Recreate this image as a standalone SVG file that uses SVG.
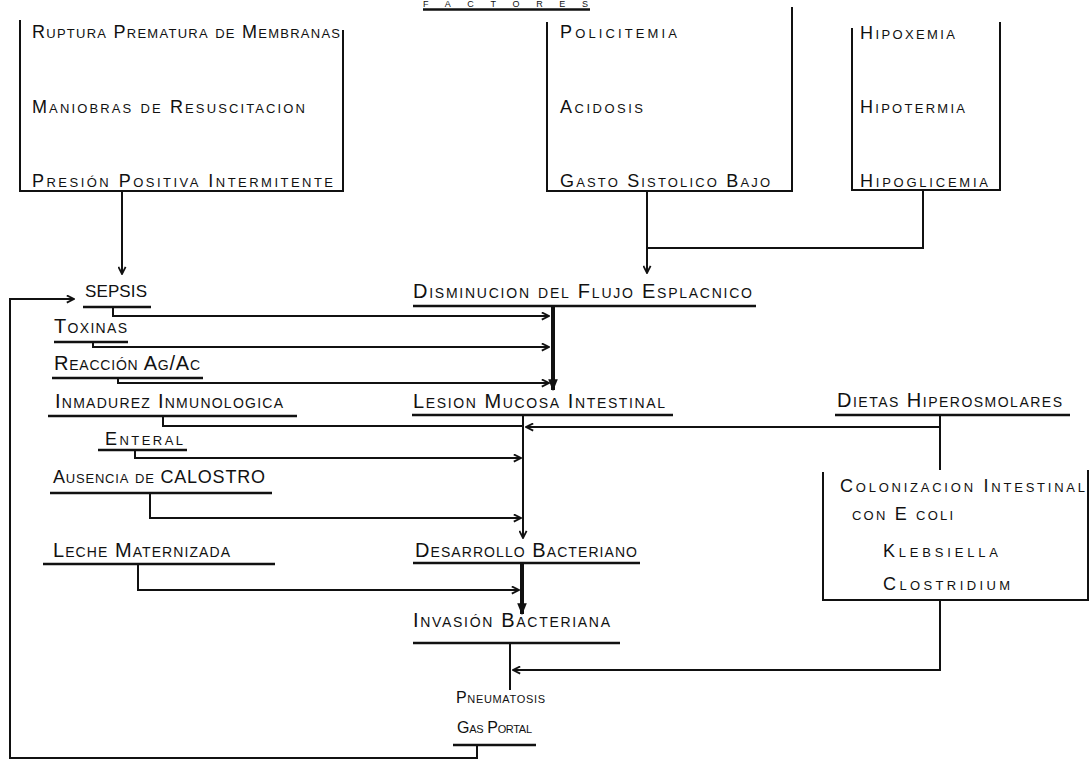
<svg xmlns="http://www.w3.org/2000/svg" width="1092" height="763" viewBox="0 0 1092 763">
<style>
.t{font-family:"Liberation Sans",Arial,sans-serif;font-size:18px;font-variant:small-caps;fill:#111}
.m{font-size:20px}
.s{font-size:16px}
.l{stroke:#111;stroke-width:2;fill:none}
.k{stroke:#111;stroke-width:4;fill:none}
.u{stroke:#111;stroke-width:2.5;fill:none}
</style>
<defs>
<marker id="a" viewBox="0 0 10 10" refX="9" refY="5" markerWidth="9" markerHeight="9" orient="auto" markerUnits="userSpaceOnUse"><path d="M1,1 L9,5 L1,9" fill="none" stroke="#111" stroke-width="2"/></marker>
<marker id="f" viewBox="0 0 10 10" refX="9" refY="5" markerWidth="12" markerHeight="12" orient="auto" markerUnits="userSpaceOnUse"><path d="M0,1 L10,5 L0,9 Z" fill="#111"/></marker>
</defs>
<rect width="1092" height="763" fill="#fff"/>

<g id="title">
<text class="t" style="font-size:9px" x="423" y="7" textLength="165" lengthAdjust="spacing">FACTORES</text>
<path class="u" d="M423,9.5 H590"/>
</g>

<g id="box1">
<path class="l" d="M20,20 V191 H343 V30"/>
<text class="t" x="32" y="38" textLength="308" lengthAdjust="spacing">Ruptura Prematura de Membranas</text>
<text class="t" x="32" y="113" textLength="273" lengthAdjust="spacing">Maniobras de Resuscitacion</text>
<text class="t" x="32" y="187" textLength="301" lengthAdjust="spacing">Presión Positiva Intermitente</text>
</g>

<g id="box2">
<path class="l" d="M547,22 V191 H792 V7"/>
<text class="t" x="560" y="38" textLength="117" lengthAdjust="spacing">Policitemia</text>
<text class="t" x="560" y="113" textLength="83" lengthAdjust="spacing">Acidosis</text>
<text class="t" x="560" y="187" textLength="210" lengthAdjust="spacing">Gasto Sistolico Bajo</text>
</g>

<g id="box3">
<path class="l" d="M852,28 V190 H1000 V22"/>
<text class="t" x="860" y="39" textLength="95" lengthAdjust="spacing">Hipoxemia</text>
<text class="t" x="860" y="113" textLength="105" lengthAdjust="spacing">Hipotermia</text>
<text class="t" x="860" y="187" textLength="128" lengthAdjust="spacing">Hipoglicemia</text>
</g>

<g id="sepsis">
<text class="t" style="font-size:17px" x="85" y="297" textLength="62" lengthAdjust="spacing">SEPSIS</text>
<path class="u" d="M83,307 H151"/>
</g>
<g id="disminucion">
<text class="t m" x="413" y="298" textLength="339" lengthAdjust="spacing">Disminucion del Flujo Esplacnico</text>
<path class="u" d="M413,306 H756"/>
</g>
<g id="toxinas">
<text class="t m" x="54" y="333" textLength="73" lengthAdjust="spacing">Toxinas</text>
<path class="u" d="M54,342 H128"/>
</g>
<g id="reaccion">
<text class="t m" x="54" y="370" textLength="146" lengthAdjust="spacing">Reacción Ag/Ac</text>
<path class="u" d="M52,378 H203"/>
</g>
<g id="inmadurez">
<text class="t m" x="55" y="408" textLength="228" lengthAdjust="spacing">Inmadurez Inmunologica</text>
<path class="u" d="M48,416 H297"/>
</g>
<g id="lesion">
<text class="t m" x="413" y="408" textLength="252" lengthAdjust="spacing">Lesion Mucosa Intestinal</text>
<path class="u" d="M412,415 H673"/>
</g>
<g id="dietas">
<text class="t m" x="837" y="407" textLength="225" lengthAdjust="spacing">Dietas Hiperosmolares</text>
<path class="u" d="M835,415 H1070"/>
</g>
<g id="enteral">
<text class="t" x="105" y="445" textLength="78" lengthAdjust="spacing">Enteral</text>
<path class="u" d="M98,450 H187"/>
</g>
<g id="ausencia">
<text class="t" x="53" y="483" textLength="212" lengthAdjust="spacing">Ausencia de CALOSTRO</text>
<path class="u" d="M50,493 H272"/>
</g>
<g id="colonizacion">
<path class="l" d="M823,472 V600 H1088 V470"/>
<text class="t" x="840" y="492" textLength="245" lengthAdjust="spacing">Colonizacion Intestinal</text>
<text class="t" x="852" y="520" textLength="101" lengthAdjust="spacing">con E coli</text>
<text class="t" x="883" y="557" textLength="115" lengthAdjust="spacing">Klebsiella</text>
<text class="t" x="883" y="590" textLength="127" lengthAdjust="spacing">Clostridium</text>
</g>
<g id="leche">
<text class="t m" x="53" y="557" textLength="177" lengthAdjust="spacing">Leche Maternizada</text>
<path class="u" d="M43,564 H275"/>
</g>
<g id="desarrollo">
<text class="t m" x="415" y="557" textLength="222" lengthAdjust="spacing">Desarrollo Bacteriano</text>
<path class="u" d="M413,563 H640"/>
</g>
<g id="invasion">
<text class="t m" x="413" y="627" textLength="197" lengthAdjust="spacing">Invasión Bacteriana</text>
<path class="u" d="M413,643 H620"/>
</g>
<g id="pneumatosis">
<text class="t s" x="456" y="703" textLength="89" lengthAdjust="spacing">Pneumatosis</text>
<text class="t s" x="457" y="733" textLength="75" lengthAdjust="spacing">Gas Portal</text>
<path class="u" d="M453,745 H536"/>
</g>

<g id="connectors">
<path class="l" d="M122,191 V274" marker-end="url(#a)"/>
<path class="l" d="M647,191 V273" marker-end="url(#a)"/>
<path class="l" d="M923,190 V248 H647"/>
<path class="l" d="M113,307 V316 H549" marker-end="url(#a)"/>
<path class="l" d="M93,342 V347 H549" marker-end="url(#a)"/>
<path class="l" d="M118,378 V383 H549" marker-end="url(#a)"/>
<path class="k" d="M553,306 V390" marker-end="url(#f)"/>
<path class="l" d="M163,416 V426 H523"/>
<path class="l" d="M940,415 V470"/>
<path class="l" d="M940,427 H526" marker-end="url(#a)"/>
<path class="l" d="M523,415 V538" marker-end="url(#a)"/>
<path class="l" d="M135,450 V458 H521" marker-end="url(#a)"/>
<path class="l" d="M150,493 V518 H521" marker-end="url(#a)"/>
<path class="k" d="M522,563 V614" marker-end="url(#f)"/>
<path class="l" d="M138,564 V590 H519" marker-end="url(#a)"/>
<path class="l" d="M510,643 V690"/>
<path class="l" d="M940,600 V670 H513" marker-end="url(#a)"/>
<path class="l" d="M477,745 V758 H10 V299 H74" marker-end="url(#a)"/>
</g>
</svg>
